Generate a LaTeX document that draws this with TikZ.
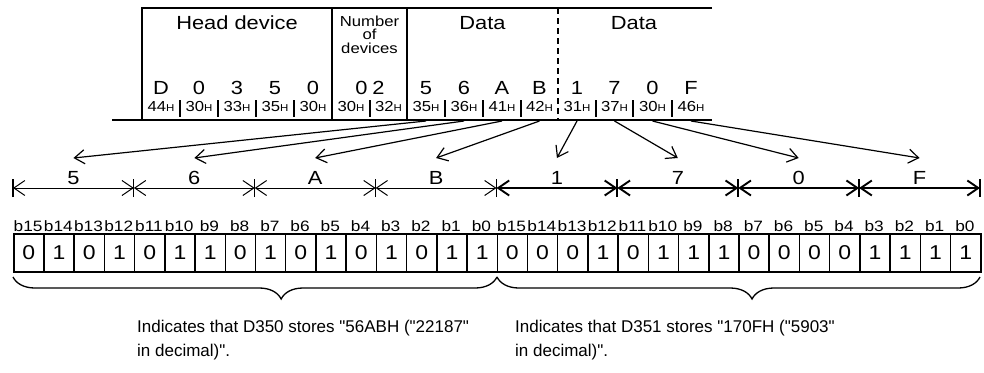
\documentclass[tikz,border=0pt]{standalone}
\usepackage{fontspec}
\setmainfont{Liberation Sans}[Ligatures=TeXOff]
\newfontfamily\wf{Liberation Sans}[FakeStretch=1.15,Ligatures=TeXOff]
\usetikzlibrary{arrows.meta,decorations.pathreplacing}
\begin{document}
\begin{tikzpicture}[x=1pt,y=-1pt,
  tbl/.style={line width=1.5pt},
  sep/.style={line width=1.2pt},
  big/.style={font=\wf\fontsize{19}{19}\selectfont, inner sep=0pt, anchor=base},
  hexc/.style={font=\wf\fontsize{14.5}{14.5}\selectfont, inner sep=0pt, anchor=base},
  arr/.style={line width=1.2pt, -{Straight Barb[length=10pt,width=14pt]}},
  dimthin/.style={line width=1pt, {Straight Barb[length=11pt,width=15pt]}-{Straight Barb[length=11pt,width=15pt]}},
  dimthick/.style={line width=1.9pt, {Straight Barb[length=11pt,width=15pt]}-{Straight Barb[length=11pt,width=15pt]}},
  bitcell/.style={draw, line width=1.5pt, minimum width=30.22pt, minimum height=38pt, inner sep=0pt, anchor=north west, font=\wf\fontsize{20}{20}\selectfont},
  bitlab/.style={font=\wf\fontsize{15}{15}\selectfont, inner sep=0pt, anchor=base},
  note/.style={font=\fontsize{17}{24}\selectfont, align=left, anchor=west, inner sep=0pt},
  brc/.style={line width=1.3pt, decorate, decoration={brace, mirror, amplitude=22pt}}
]
\useasboundingbox (0,0) rectangle (984,372);
% ---- top table ----
\draw[tbl] (712,8) -- (142,8) -- (142,120);
\draw[tbl] (112,120) -- (712,120);
\draw[tbl] (332,8) -- (332,120);
\draw[tbl] (407,8) -- (407,120);
\draw[tbl, dash pattern=on 6pt off 4pt] (558,8) -- (558,120);
\node[big] (hd) at (237,29) {Head device};
\node[font=\wf\fontsize{14.5}{13.5}\selectfont, align=center, inner sep=0pt] (nd) at (369.5,34.5) {Number\\of\\devices};
\node[big] (da1) at (482.5,29) {Data};
\node[big] (da2) at (634,29) {Data};
% letters
\foreach \x/\t [count=\i] in {161/D,199/0,237/3,275/5,313/0,426/5,464/6,502/A,539.5/B,577/1,614.5/7,652.5/0,691/F}
  \node[big] (L\i) at (\x,94) {\t};
\node[big] (Lnum) at (370,94) {0\hspace{5pt}2};
% hex codes
\foreach \x/\t [count=\i] in {161/44,199/30,237/33,275/35,313/30,351/30,388.5/32,426/35,464/36,502/41,539.5/42,577/31,614.5/37,652.5/30,691/46}
  \node[hexc] (H\i) at (\x,111) {\t{\fontsize{10}{10}\selectfont H}};
\foreach \x in {180,218,256,294,370,445,483,521,596,633,672}
  \draw[sep] (\x,100) -- (\x,117);
% ---- dimension line ----
\foreach \k in {0,...,8}
  \coordinate (t\k) at ({13+120.875*\k},188);
\foreach \a/\b in {0/1,1/2,2/3,3/4}
  \draw[dimthin] (t\a) -- (t\b);
\foreach \a/\b in {4/5,5/6,6/7,7/8}
  \draw[dimthick] (t\a) -- (t\b);
\foreach \k in {0,...,3}
  \draw[line width=1.2pt] ([yshift=-9pt]t\k) -- ([yshift=9pt]t\k);
\foreach \k in {4,...,8}
  \draw[line width=1.9pt] ([yshift=-9pt]t\k) -- ([yshift=9pt]t\k);
\foreach \t [count=\i from 0] in {5,6,A,B,1,7,0,F}
  \node[big] (D\i) at ({73.44+120.875*\i},184) {\t};
% arrows from codes to digits
\foreach \sx [count=\i from 0] in {426,464,502,539.5,577,614.5,652.5,691} {
  \coordinate (s\i) at (\sx,121);
  \coordinate (e\i) at ({73.44+120.875*\i},158);
  \draw[arr] (s\i) -- (e\i);
}
% ---- bit cells ----
\foreach \b [count=\i from 0] in {0,1,0,1,0,1,1,0,1,0,1,0,1,0,1,1,0,0,0,1,0,1,1,1,0,0,0,0,1,1,1,1} {
  \node[bitcell] (c\i) at ({13+30.21875*\i},233) {\b};
  \pgfmathtruncatemacro\bn{15-mod(\i,16)}
  \node[bitlab] (bl\i) at ({13+30.21875*(\i+0.5)},231) {b\bn};
}
% ---- braces ----
\coordinate (br0) at (13,277);
\coordinate (br1) at (497,277);
\coordinate (br2) at (980,277);
\draw[brc, decoration={aspect=0.554}] (br0) -- (br1);
\draw[brc, decoration={aspect=0.528}] (br1) -- (br2);
% ---- notes ----
\node[note] (n1) at (137,340) {Indicates that D350 stores "56ABH ("22187"\\in decimal)".};
\node[note] (n2) at (515,340) {Indicates that D351 stores "170FH ("5903"\\in decimal)".};
\end{tikzpicture}
\end{document}
